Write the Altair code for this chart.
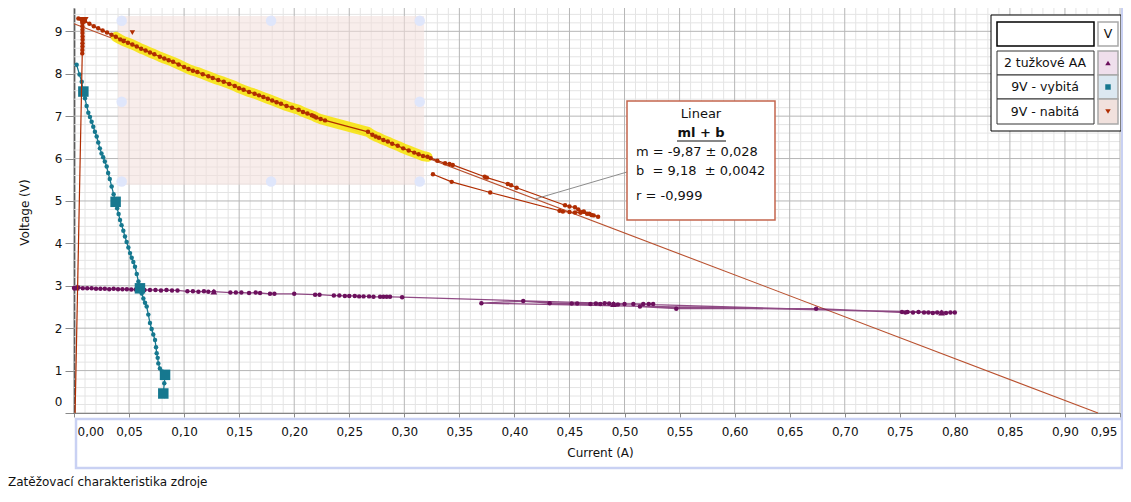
import altair as alt
import pandas as pd

# ---------------- data ----------------
# 9V - nabitá (charged 9V battery): current (A), voltage (V), in measurement order
RED_I = [0.0010, 0.0075, 0.0076, 0.0077, 0.0077, 0.0078, 0.0078, 0.0077, 0.0077, 0.0076, 0.0075,
         0.0040, 0.0085, 0.010, 0.014, 0.018, 0.022, 0.026, 0.030, 0.034, 0.038, 0.042, 0.045,
         0.049, 0.053, 0.057, 0.061, 0.065, 0.069, 0.073, 0.078, 0.082, 0.086, 0.090, 0.095,
         0.100, 0.104, 0.108, 0.112, 0.117, 0.122, 0.126, 0.131, 0.136, 0.141, 0.146, 0.150,
         0.154, 0.159, 0.164, 0.168, 0.172, 0.176, 0.180, 0.184, 0.188, 0.193, 0.198, 0.204,
         0.208, 0.212, 0.216, 0.218, 0.220, 0.224, 0.228, 0.267, 0.271, 0.274, 0.277, 0.281,
         0.285, 0.289, 0.294, 0.299, 0.304, 0.309, 0.313, 0.317, 0.321, 0.324, 0.330, 0.337,
         0.341, 0.344, 0.373, 0.375, 0.394, 0.397, 0.402, 0.446, 0.450, 0.455, 0.458, 0.463,
         0.468, 0.472, 0.476, 0.470, 0.466, 0.460, 0.455, 0.450, 0.444, 0.441, 0.378, 0.343,
         0.326]
RED_V = [0.00, 8.48, 8.56, 8.64, 8.72, 8.80, 8.88, 8.96, 9.04, 9.12, 9.20,
         9.30, 9.25, 9.24, 9.18, 9.12, 9.07, 9.02, 8.97, 8.92, 8.87, 8.81, 8.77,
         8.73, 8.69, 8.64, 8.59, 8.55, 8.50, 8.46, 8.40, 8.36, 8.32, 8.28, 8.22,
         8.16, 8.11, 8.07, 8.04, 7.99, 7.94, 7.90, 7.85, 7.81, 7.76, 7.71, 7.66,
         7.62, 7.57, 7.53, 7.49, 7.45, 7.41, 7.37, 7.33, 7.29, 7.24, 7.20, 7.15,
         7.10, 7.06, 7.02, 7.00, 6.97, 6.93, 6.90, 6.63, 6.56, 6.52, 6.49, 6.44,
         6.40, 6.35, 6.30, 6.24, 6.19, 6.14, 6.10, 6.06, 6.04, 6.01, 5.95, 5.89,
         5.87, 5.85, 5.57, 5.55, 5.40, 5.37, 5.31, 4.90, 4.87, 4.85, 4.80, 4.75,
         4.70, 4.66, 4.63, 4.67, 4.70, 4.72, 4.73, 4.74, 4.75, 4.77, 5.20, 5.45,
         5.63]
RED_TRI_BIG_I = [0.0085]
RED_TRI_BIG_V = [9.23]
RED_TRI_SMALL_I = [0.045, 0.053]
RED_TRI_SMALL_V = [8.77, 8.97]

# 9V - vybitá (discharged 9V battery)
BLUE_I = [0.0024, 0.0050, 0.0070, 0.0085, 0.0100, 0.0115, 0.0130, 0.0145, 0.0160, 0.0175,
          0.0190, 0.0206, 0.0220, 0.0235, 0.0250, 0.0265, 0.0280, 0.0297, 0.0310, 0.0325,
          0.0342, 0.0360, 0.0378, 0.0392, 0.0405, 0.0418, 0.0432, 0.0448, 0.0463, 0.0478,
          0.0494, 0.0509, 0.0524, 0.0539, 0.0554, 0.0570, 0.0585, 0.0599, 0.0615, 0.0630,
          0.0645, 0.0660, 0.0675, 0.0690, 0.0705, 0.0720, 0.0736, 0.0745, 0.0751, 0.0760,
          0.0766, 0.0780, 0.0800, 0.0827, 0.0820, 0.0811, 0.0822]
BLUE_V = [8.21, 7.98, 7.81, 7.58, 7.42, 7.24, 7.08, 6.98, 6.87, 6.75,
          6.63, 6.52, 6.38, 6.24, 6.12, 6.03, 5.93, 5.81, 5.66, 5.52,
          5.34, 5.16, 4.98, 4.83, 4.69, 4.55, 4.43, 4.30, 4.16, 4.03,
          3.90, 3.77, 3.66, 3.56, 3.45, 3.28, 3.10, 2.94, 2.82, 2.70,
          2.60, 2.51, 2.32, 2.12, 1.98, 1.85, 1.72, 1.55, 1.41, 1.30,
          1.17, 1.05, 0.98, 0.90, 0.70, 0.46, 0.40]
BLUE_SQ_I = [0.0085, 0.0378, 0.0599, 0.0827, 0.0811]
BLUE_SQ_V = [7.58, 4.98, 2.94, 0.90, 0.46]

# 2 tužkové AA (two AA cells)
PURPLE_I = [0.000, 0.004, 0.008, 0.012, 0.016, 0.020, 0.024, 0.028, 0.032, 0.036, 0.040,
            0.044, 0.048, 0.052, 0.056, 0.060, 0.064, 0.069, 0.074, 0.079, 0.084, 0.089,
            0.094, 0.103, 0.108, 0.113, 0.118, 0.122, 0.127, 0.142, 0.147, 0.152, 0.159,
            0.165, 0.169, 0.178, 0.182, 0.200, 0.219, 0.223, 0.236, 0.241, 0.246, 0.250,
            0.255, 0.259, 0.263, 0.268, 0.272, 0.278, 0.281, 0.284, 0.287, 0.298,
            0.752, 0.757, 0.762, 0.767, 0.772, 0.776, 0.780, 0.784, 0.788, 0.792, 0.796,
            0.800, 0.370, 0.408, 0.432, 0.452, 0.457, 0.469, 0.474, 0.478, 0.482, 0.486,
            0.490, 0.494, 0.500, 0.508, 0.517, 0.522, 0.526, 0.514, 0.547, 0.674, 0.755]
PURPLE_V = [2.95, 2.96, 2.94, 2.94, 2.94, 2.93, 2.93, 2.93, 2.92, 2.93, 2.92,
            2.92, 2.92, 2.91, 2.91, 2.91, 2.90, 2.90, 2.90, 2.89, 2.90, 2.89,
            2.89, 2.87, 2.87, 2.86, 2.87, 2.86, 2.86, 2.84, 2.84, 2.84, 2.83,
            2.84, 2.83, 2.81, 2.81, 2.81, 2.79, 2.79, 2.77, 2.77, 2.76, 2.76,
            2.76, 2.75, 2.75, 2.75, 2.74, 2.74, 2.74, 2.74, 2.74, 2.73,
            2.38, 2.38, 2.37, 2.38, 2.37, 2.37, 2.36, 2.37, 2.37, 2.36, 2.37,
            2.37, 2.59, 2.64, 2.59, 2.58, 2.58, 2.57, 2.58, 2.57, 2.59, 2.58,
            2.57, 2.56, 2.57, 2.57, 2.57, 2.57, 2.57, 2.51, 2.46, 2.46, 2.37]
PURPLE_TRI_I = [0.002, 0.127, 0.490, 0.788]
PURPLE_TRI_V = [2.96, 2.86, 2.57, 2.37]

# Linear fit  V = m*I + b  (m = -9.87, b = 9.18)
FIT_I = [0.0, 0.930]
FIT_V = [9.18, 0.0]

# selected region for the fit
SEL_I = [0.040, 0.318]
SEL_V = [5.38, 9.36]
HANDLE_I = [0.0433, 0.179, 0.314, 0.0433, 0.314, 0.0433, 0.179, 0.314]
HANDLE_V = [9.25, 9.25, 9.25, 7.34, 7.34, 5.46, 5.46, 5.46]

# axis ticks
X_TICKS = [round(0.05 * k, 2) for k in range(20)]
Y_TICKS = list(range(10))
X_MINOR = [round(0.01 * k, 2) for k in range(96) if k % 5]
Y_MINOR = [round(0.2 * k, 1) for k in range(48) if k % 5]

# ---------------- styling ----------------
FONT = "DejaVu Sans"
RED = "#b02d02"
FITC = "#b9502e"
BLUE = "#16788f"
PURPLE = "#6c105d"
FRAME = "#c9d1f3"
W, H = 1046, 405
NB = "\u00a0"


def df(i, v):
    return pd.DataFrame({"I": i, "V": v, "k": list(range(len(i)))})


one = pd.DataFrame({"a": [0]})

x_axis = alt.Axis(
    values=X_TICKS, grid=False,
    labelExpr="replace(format(datum.value, '.2f'), '.', ',')",
    labelFlush=True, labelFlushOffset=-3,
    labelFont=FONT, labelFontSize=12, labelColor="#111", labelPadding=9,
    tickSize=4, tickColor="#8a8a8a", domainColor="#555", domainWidth=1,
    title="Current (A)", titleFont=FONT, titleFontSize=12, titleFontWeight="normal",
    titleColor="#111", titleX=526, titleY=39, titleBaseline="middle", titleAlign="center",
)
y_axis = alt.Axis(
    values=Y_TICKS, grid=False, format="d",
    labelFlush=True, labelFlushOffset=-5,
    labelFont=FONT, labelFontSize=12, labelColor="#111", labelPadding=3,
    tickSize=9, tickColor="#8a8a8a", domainColor="#000", domainWidth=1.5,
    title="Voltage (V)", titleFont=FONT, titleFontSize=12, titleFontWeight="normal",
    titleColor="#111", titleX=-50, titleY=204, titleAngle=270,
    titleBaseline="middle", titleAlign="center",
)
xs = alt.Scale(domain=[0, 0.95], nice=False, zero=False)
ys = alt.Scale(domain=[0, 9.55], nice=False, zero=False)
X = alt.X("I:Q", scale=xs, axis=x_axis)
Y = alt.Y("V:Q", scale=ys, axis=y_axis)

layers = []

# grid
layers.append(alt.Chart(pd.DataFrame({"I": X_MINOR})).mark_rule(color="#e4e4e4", strokeWidth=1).encode(x=X))
layers.append(alt.Chart(pd.DataFrame({"V": Y_MINOR})).mark_rule(color="#e4e4e4", strokeWidth=1).encode(y=Y))
layers.append(alt.Chart(pd.DataFrame({"I": X_TICKS})).mark_rule(color="#b6b6b6", strokeWidth=1).encode(x=X))
layers.append(alt.Chart(pd.DataFrame({"V": Y_TICKS})).mark_rule(color="#b6b6b6", strokeWidth=1).encode(y=Y))

# selection region
sel = pd.DataFrame({"I": [SEL_I[0]], "I2": [SEL_I[1]], "V": [SEL_V[0]], "V2": [SEL_V[1]]})
layers.append(alt.Chart(sel).mark_rect(fill="#f3dfda", opacity=0.55).encode(
    x=X, x2="I2:Q", y=Y, y2="V2:Q"))
layers.append(alt.Chart(df(HANDLE_I, HANDLE_V)).mark_circle(
    size=110, color="#dfe6fb", opacity=1).encode(x=X, y=Y))

# graph object frame (light blue): x-axis box and right edge
layers.append(alt.Chart(one).mark_rect(fill="transparent", stroke=FRAME, strokeWidth=2.5).encode(
    x=alt.value(2), x2=alt.value(1048), y=alt.value(411), y2=alt.value(460)))

# fit line
layers.append(alt.Chart(df(FIT_I, FIT_V)).mark_line(color=FITC, strokeWidth=1.1).encode(
    x=X, y=Y, order="k:Q"))

# red highlight
red = df(RED_I, RED_V)
turn = RED_I.index(0.476)
hl = red[(red.I >= 0.035) & (red.I <= 0.322) & (red.k <= turn)]
layers.append(alt.Chart(hl).mark_line(color="#f7e51a", strokeWidth=10, strokeCap="round",
                                      strokeJoin="round", opacity=0.95).encode(x=X, y=Y, order="k:Q"))

# series: purple
pur = df(PURPLE_I, PURPLE_V)
layers.append(alt.Chart(pur).mark_line(color=PURPLE, strokeWidth=1.3, opacity=0.75).encode(
    x=X, y=Y, order="k:Q"))
layers.append(alt.Chart(pur).mark_circle(color=PURPLE, size=20, opacity=1).encode(x=X, y=Y))
layers.append(alt.Chart(df(PURPLE_TRI_I, PURPLE_TRI_V)).mark_point(
    shape="triangle-up", filled=True, size=45, color=PURPLE, opacity=1).encode(x=X, y=Y))

# series: blue
blu = df(BLUE_I, BLUE_V)
layers.append(alt.Chart(blu).mark_line(color=BLUE, strokeWidth=1.3).encode(x=X, y=Y, order="k:Q"))
layers.append(alt.Chart(blu).mark_circle(color=BLUE, size=20, opacity=1).encode(x=X, y=Y))
layers.append(alt.Chart(df(BLUE_SQ_I, BLUE_SQ_V)).mark_point(
    shape="square", filled=True, size=110, color=BLUE, opacity=1).encode(x=X, y=Y))

# series: red
layers.append(alt.Chart(red).mark_line(color=RED, strokeWidth=1.2).encode(x=X, y=Y, order="k:Q"))
layers.append(alt.Chart(red[red.V > 0]).mark_circle(color=RED, size=20, opacity=1).encode(x=X, y=Y))
layers.append(alt.Chart(df(RED_TRI_BIG_I, RED_TRI_BIG_V)).mark_point(
    shape="triangle-down", filled=True, size=110, color=RED, opacity=1).encode(x=X, y=Y))
layers.append(alt.Chart(df(RED_TRI_SMALL_I, RED_TRI_SMALL_V)).mark_point(
    shape="triangle-down", filled=True, size=30, color=RED, opacity=1).encode(x=X, y=Y))

# annotation box (linear fit)
layers.append(alt.Chart(one).mark_rule(color="#8c8c8c", strokeWidth=1).encode(
    x=alt.value(553), x2=alt.value(461), y=alt.value(164), y2=alt.value(191)))
layers.append(alt.Chart(one).mark_rect(fill="white", stroke="#c4664d", strokeWidth=1.5).encode(
    x=alt.value(553), x2=alt.value(701), y=alt.value(93), y2=alt.value(212)))
ann = [
    ("Linear", 627, 106, "center", "normal"),
    ("ml + b", 627, 125, "center", "bold"),
    ("m = -9,87 ± 0,028", 562, 144, "left", "normal"),
    ("b " + NB + "= 9,18 " + NB + "± 0,0042", 562, 163, "left", "normal"),
    ("r = -0,999", 562, 188, "left", "normal"),
]
for txt, tx, ty, al, fw in ann:
    layers.append(alt.Chart(one).mark_text(
        font=FONT, fontSize=13, align=al, baseline="middle", fontWeight=fw, color="#111").encode(
        x=alt.value(tx), y=alt.value(ty), text=alt.value(txt)))
layers.append(alt.Chart(one).mark_rule(color="#111", strokeWidth=1.2).encode(
    x=alt.value(603), x2=alt.value(652), y=alt.value(133), y2=alt.value(133)))

# legend box
layers.append(alt.Chart(one).mark_rect(fill="white", stroke="#000", strokeWidth=1).encode(
    x=alt.value(917), x2=alt.value(1047), y=alt.value(7), y2=alt.value(123)))
layers.append(alt.Chart(one).mark_rect(fill="white", stroke="#000", strokeWidth=1.5).encode(
    x=alt.value(923), x2=alt.value(1020), y=alt.value(14), y2=alt.value(38)))
layers.append(alt.Chart(one).mark_rect(fill="white", stroke="#a8a8a8", strokeWidth=1.5).encode(
    x=alt.value(1024), x2=alt.value(1044), y=alt.value(14), y2=alt.value(38)))
layers.append(alt.Chart(one).mark_text(font=FONT, fontSize=12.5, color="#111").encode(
    x=alt.value(1034), y=alt.value(26), text=alt.value("V")))
rows = [("2 tužkové AA", 43, 67, "#efdfec", "triangle-up", PURPLE),
        ("9V - vybitá", 67, 91, "#dce8f1", "square", BLUE),
        ("9V - nabitá", 91, 116, "#f1e1dd", "triangle-down", RED)]
for lab, y0, y1, bg, shp, col in rows:
    layers.append(alt.Chart(one).mark_rect(fill="white", stroke="#333", strokeWidth=1).encode(
        x=alt.value(923), x2=alt.value(1020), y=alt.value(y0), y2=alt.value(y1)))
    layers.append(alt.Chart(one).mark_rect(fill=bg, stroke="#a8a8a8", strokeWidth=1.5).encode(
        x=alt.value(1024), x2=alt.value(1044), y=alt.value(y0), y2=alt.value(y1)))
    layers.append(alt.Chart(one).mark_text(font=FONT, fontSize=12.5, color="#111").encode(
        x=alt.value(971), y=alt.value((y0 + y1) / 2), text=alt.value(lab)))
    layers.append(alt.Chart(one).mark_point(shape=shp, filled=True, size=30, color=col, opacity=1).encode(
        x=alt.value(1034), y=alt.value((y0 + y1) / 2)))

# right edge of the graph object frame
layers.append(alt.Chart(one).mark_rule(color=FRAME, strokeWidth=2).encode(
    x=alt.value(1048), x2=alt.value(1048), y=alt.value(0), y2=alt.value(460)))

# caption
layers.append(alt.Chart(one).mark_text(font=FONT, fontSize=12, align="left", color="#111").encode(
    x=alt.value(-66), y=alt.value(474), text=alt.value("Zatěžovací charakteristika zdroje")))

chart = alt.layer(*layers).properties(
    width=W, height=H,
    padding={"left": 66, "top": 0, "right": 3, "bottom": 75},
    autosize=alt.AutoSizeParams(type="none"),
    background="white",
).configure_view(strokeWidth=0)

chart.save("out.html", embed_options={"renderer": "svg", "actions": False})
